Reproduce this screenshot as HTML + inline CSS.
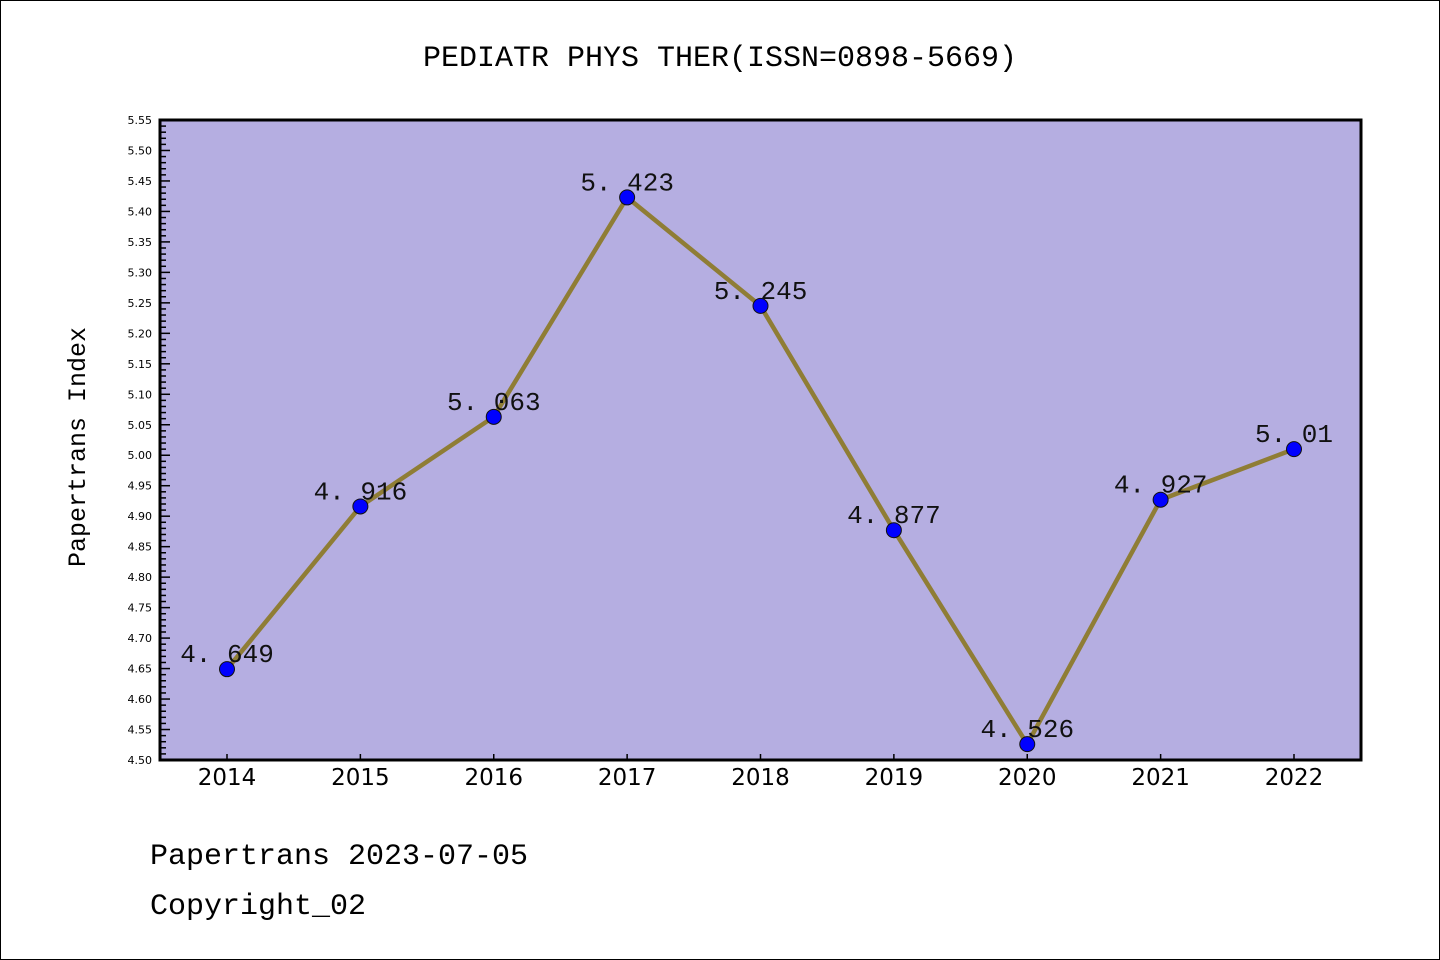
<!DOCTYPE html>
<html><head><meta charset="utf-8"><style>
body{margin:0;background:#fff}
svg{display:block}
.mono{font-family:"Liberation Mono","WenQuanYi Zen Hei",monospace}
.dv{font-family:"DejaVu Sans","Liberation Sans",sans-serif}
</style></head><body>
<svg id="c" width="1440" height="960" xmlns="http://www.w3.org/2000/svg">
<rect x="0.5" y="0.5" width="1439" height="959" fill="#fff" stroke="#000"/>
<text x="720" y="66" text-anchor="middle" font-size="30" class="mono">PEDIATR PHYS THER(ISSN=0898-5669)</text>
<rect x="160" y="120" width="1201" height="640" fill="#b5aee1"/>
<g id="ticks"></g>
<g id="series"></g>
<rect x="160" y="120" width="1201" height="640" fill="none" stroke="#000" stroke-width="3"/>
<text transform="translate(85,447) rotate(-90)" text-anchor="middle" font-size="25" class="mono">Papertrans Index</text>
<text x="150" y="864" font-size="30" class="mono">Papertrans 2023-07-05</text>
<text x="150" y="914" font-size="30" class="mono">Copyright_02</text>
</svg>
<script>
const categories=["2014","2015","2016","2017","2018","2019","2020","2021","2022"];
const values=[4.649,4.916,5.063,5.423,5.245,4.877,4.526,4.927,5.01];
const valueLabels=["4.649","4.916","5.063","5.423","5.245","4.877","4.526","4.927","5.01"];
const yMin=4.5,yMax=5.55;
const NS="http://www.w3.org/2000/svg";
const x=i=>227+i*(1294-227)/(categories.length-1);
const y=v=>760-(v-yMin)/(yMax-yMin)*640;
function mk(t,a,p){const e=document.createElementNS(NS,t);for(const k in a)e.setAttribute(k,a[k]);p.appendChild(e);return e;}
const tg=document.getElementById('ticks');
for(let k=0;k<=105;k++){
 const v=yMin+k*0.01,yy=y(v),major=k%5===0;
 const l=mk('line',{x1:160,x2:160+(major?10:6),y1:yy,y2:yy,stroke:'#000','stroke-width':1.5},tg);
 
 
 if(major){const t=mk('text',{x:152,y:yy+4,'text-anchor':'end','font-size':11,class:'dv'},tg);t.textContent=v.toFixed(2);
 
 }
}
categories.forEach((c,i)=>{
 const l=mk('line',{x1:x(i),x2:x(i),y1:760,y2:754,stroke:'#000','stroke-width':1.5},tg);
 
 
 const t=mk('text',{x:x(i),y:785,'text-anchor':'middle','font-size':23,class:'dv'},tg);t.textContent=c;
 
 
});
const sg=document.getElementById('series');
const pl=mk('polyline',{points:values.map((v,i)=>x(i)+','+y(v)).join(' '),fill:'none',stroke:'#8f7d35','stroke-width':4.5},sg);


values.forEach((v,i)=>{
 const c=mk('circle',{cx:x(i),cy:y(v),r:7.5,fill:'#0000ff',stroke:'#111','stroke-width':1},sg);
 
 
 const t=mk('text',{x:x(i),y:y(v)-7,'text-anchor':'middle','font-size':26,class:'mono',fill:'#111'},sg);
 t.textContent=valueLabels[i].replace('.','. ');
 
 
});
</script>
</body></html>
